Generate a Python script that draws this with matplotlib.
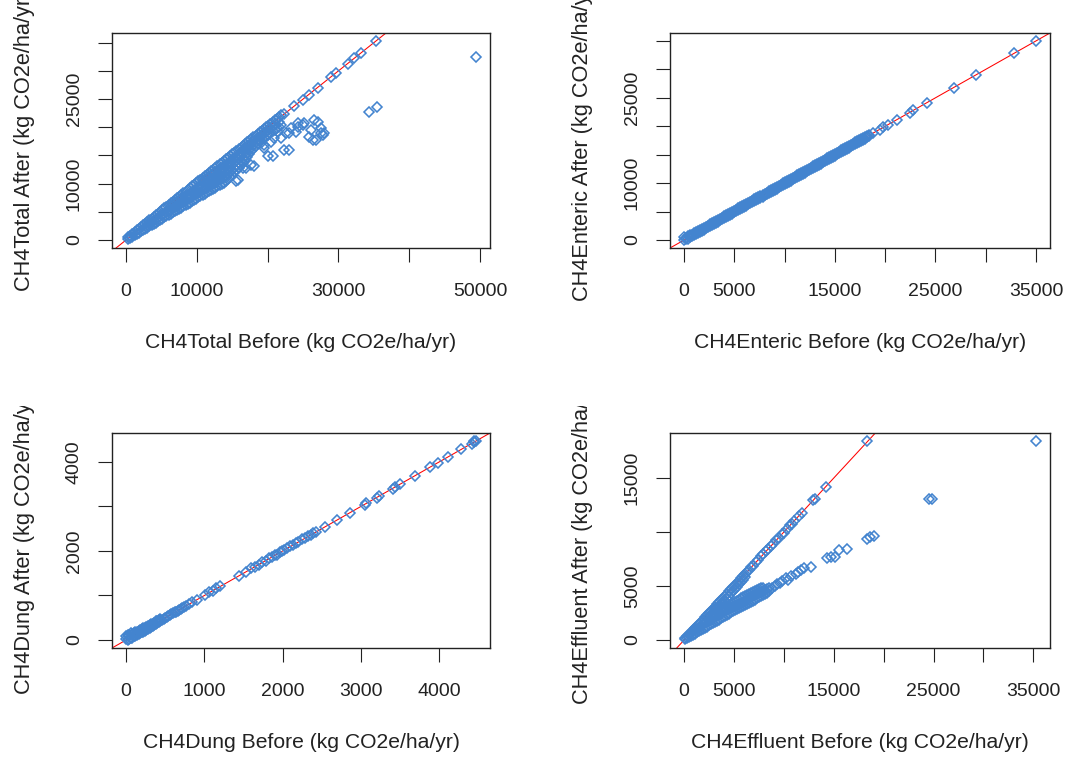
import matplotlib
matplotlib.use("Agg")
import matplotlib.pyplot as plt
from matplotlib.transforms import Bbox, TransformedBbox

POINT = "#4384CF"
LINE = "red"
BOX = "#222222"

# Dense clouds are kept as columns: one "before" value and the "after"
# values read at it. Sparse points are plain before/after lists.

# ---- CH4Total (kg CO2e/ha/yr) ----
total_cols = [
    300, 600, 900, 1200, 1500, 1800, 2100, 2400, 2700, 3000,
    3300, 3600, 3900, 4200, 4500, 4800, 5100, 5400, 5700, 6000,
    6300, 6600, 6900, 7200, 7500, 7800, 8100, 8400, 8700, 9000,
    9300, 9600, 9900, 10200, 10500, 10800, 11100, 11400, 11700, 12000,
    12300, 12600, 12900, 13200, 13500, 13800, 14100, 14400, 14700, 15000,
    15300, 15600, 15900, 16200, 16500, 16800, 17100, 17400, 17700, 18000,
    18300, 18600, 18900, 19200, 19500, 19800, 20100, 20400, 20700, 21000,
    21300, 21600, 21900,
]
total_col_after = [
    [150, 500], [350, 800], [600, 1100], [850, 1400], [1100, 1700],
    [1300, 2000], [1550, 2300], [1750, 2600], [2000, 2900],
    [2200, 2700, 3200], [2450, 3000, 3500], [2650, 3200, 3800],
    [2900, 3450, 4100], [3100, 3700, 4400], [3350, 3950, 4700],
    [3550, 4200, 5000], [3800, 4450, 5300], [4000, 4700, 5600],
    [4200, 4950, 5900], [4450, 5200, 6200],
    [4650, 5400, 6000, 6500], [4900, 5650, 6300, 6800],
    [5100, 5850, 6550, 7100], [5350, 6100, 6800, 7400],
    [5550, 6300, 7050, 7700], [5750, 6550, 7300, 8000],
    [6000, 6750, 7550, 8300], [6200, 7000, 7800, 8600],
    [6450, 7200, 8000, 8900], [6650, 7450, 8250, 9200],
    [6900, 7650, 8500, 9500], [7100, 7900, 8750, 9800],
    [7350, 8150, 9000, 10100], [7550, 8400, 9250, 10400],
    [7750, 8600, 9500, 10700],
    [8000, 8800, 9650, 10400, 11000], [8200, 9050, 9900, 10650, 11300],
    [8450, 9300, 10150, 10950, 11600], [8650, 9500, 10400, 11200, 11900],
    [8900, 9750, 10650, 11450, 12200], [9100, 10000, 10900, 11750, 12500],
    [9300, 10200, 11150, 12000, 12800], [9550, 10450, 11350, 12250, 13100],
    [9750, 10650, 11600, 12500, 13400], [10000, 10900, 11850, 12800, 13700],
    [10200, 11150, 12100, 13050, 14000], [10450, 11400, 12350, 13300, 14300],
    [10800, 11700, 12600, 13550, 14600], [11200, 12100, 12950, 13850, 14900],
    [11600, 12450, 13300, 14150, 15200], [12000, 12850, 13650, 14500, 15500],
    [12400, 13200, 14000, 14800, 15800], [12800, 13600, 14350, 15150, 16100],
    [13250, 14000, 14750, 15500, 16400], [13700, 14450, 15200, 15950, 16700],
    [14200, 14950, 15650, 16350, 17000], [14700, 15400, 16100, 16700, 17300],
    [15200, 15900, 16600, 17600], [15700, 16400, 17100, 17900],
    [16200, 16900, 17500, 18200], [16700, 17400, 18500],
    [17200, 17900, 18800], [17550, 18300, 19100], [17850, 18600, 19400],
    [18150, 18900, 19700], [18400, 19200, 20000], [18700, 19500, 20300],
    [19000, 19800, 20600], [19300, 20900], [19550, 20500, 21200],
    [19850, 21500], [20100, 21000, 21800], [20400, 22100],
]
total_before = [
    22360, 23770, 24950, 25890, 27070, 28950, 29660, 31310, 32250, 33190, 35310,
    15540, 15800, 16480, 16950, 17650, 18120, 19070, 19540, 20010, 20480, 20720,
    21420, 21890, 22360, 23070, 19530, 20950, 22600, 23070, 23300, 24010, 24250,
    24250, 24950, 25180, 26130, 25890, 26370, 26840, 27540, 28010, 27780, 26600,
    27070, 27540, 34370, 35450, 49430,
]
total_after = [
    22300, 23700, 24900, 25800, 27000, 28900, 29700, 31300, 32300, 33200, 35300,
    10410, 10700, 12760, 12760, 13340, 13060, 17170, 16290, 14820, 17470, 14820,
    19240, 18050, 15990, 15990, 16870, 18040, 18930, 18940, 19820, 19240, 20700,
    20110, 20400, 20700, 19520, 18350, 17760, 17760, 18940, 18940, 18650, 21280,
    21000, 19940, 22760, 23640, 32470,
]

# ---- CH4Enteric ----
enteric_cols = [
    0, 200, 400, 600, 800, 1000, 1200, 1400, 1600, 1800, 2000, 2200, 2400,
    2600, 2800, 3000, 3200, 3400, 3600, 3800, 4000, 4200, 4400, 4600, 4800,
    5000, 5200, 5400, 5600, 5800, 6000, 6200, 6400, 6600, 6800, 7000, 7200,
    7400, 7600, 7800, 8000, 8200, 8400, 8600, 8800, 9000, 9200, 9400, 9600,
    9800, 10000, 10200, 10400, 10600, 10800, 11000, 11200, 11400, 11600,
    11800, 12000, 12200, 12400, 12600, 12800, 13000, 13200, 13400, 13600,
    13800, 14000, 14200, 14400, 14600, 14800, 15000, 15200, 15400, 15600,
    15800, 16000, 16200, 16400, 16600, 16800, 17000, 17200, 17400, 17600,
    17800, 18000, 18200, 18400,
]
enteric_col_after = [
    [0, 450], [100, 350], [200, 650], [450, 800], [650, 950], [850, 1150],
    [1050, 1350], [1250, 1550], [1450, 1750], [1650, 1950], [1850, 2150],
    [2050, 2350], [2250, 2550], [2450, 2750], [2650, 2950], [2850, 3150],
    [3050, 3350], [3250, 3550], [3450, 3750], [3650, 3950], [3850, 4150],
    [4050, 4350], [4250, 4550], [4450, 4750], [4650, 4950], [4850, 5150],
    [5050, 5350], [5250, 5550], [5450, 5750], [5650, 5950], [5850, 6150],
    [6050, 6350], [6250, 6550], [6450, 6750], [6650, 6950], [6850, 7150],
    [7050, 7350], [7250, 7550], [7450, 7750], [7650, 7950], [7850, 8150],
    [8050, 8350], [8250, 8550], [8450, 8750], [8650, 8950], [8850, 9150],
    [9050, 9350], [9250, 9550], [9450, 9750], [9650, 9950], [9850, 10150],
    [10050, 10350], [10250, 10550], [10450, 10750], [10650, 10950],
    [10850, 11150], [11050, 11350], [11250, 11550], [11450, 11750],
    [11650, 11950], [11850, 12150], [12050, 12350], [12250, 12550],
    [12450, 12750], [12650, 12950], [12850, 13150], [13050, 13350],
    [13250, 13550], [13450, 13750], [13650, 13950], [13850, 14150],
    [14050, 14350], [14250, 14550], [14450, 14750], [14650, 14950],
    [14850, 15150], [15050, 15350], [15250, 15550], [15450, 15750],
    [15650, 15950], [15850, 16150], [16050, 16350], [16250, 16550],
    [16450, 16750], [16650, 16950], [16850, 17150], [17050, 17350],
    [17250, 17550], [17450, 17750], [17650, 17950], [17850, 18150],
    [18050, 18350], [18250, 18550],
]
enteric_before = [18800, 19470, 19800, 20300, 21140, 22480, 22810, 24150,
                  26810, 28990, 32830, 35000]
enteric_after = [18800, 19400, 19800, 20250, 21100, 22400, 22800, 24100,
                 26800, 28950, 32800, 35000]

# ---- CH4Dung ----
dung_cols = [
    0, 20, 40, 60, 80, 100, 120, 140, 160, 180, 200, 220, 240, 260, 280,
    300, 320, 340, 360, 380, 400, 420, 440, 460, 480, 500, 520, 540, 560,
    580, 600, 620, 640, 660, 680, 700, 720, 740, 760,
]
dung_col_after = [
    [20, 90], [0, 110], [30, 120], [40, 150], [50, 130], [80, 160],
    [100, 180], [110, 190], [130, 210], [150, 230], [170, 250], [190, 260],
    [210, 280], [230, 300], [250, 320], [270, 340], [290, 360], [310, 370],
    [330, 390], [350, 420], [380, 430], [400, 450], [420, 470], [460],
    [480], [500], [520], [540], [560], [580], [600], [620], [640], [660],
    [680], [700], [720], [740], [760],
]
dung_before = [
    800, 840, 910, 1010, 1060, 1110, 1150, 1200, 1440, 1530, 1600,
    1650, 1700, 1740, 1790, 1830, 1870, 1900, 1930, 1960, 1990, 2020, 2060,
    2100, 2130, 2170, 2200, 2250, 2290, 2330, 2360, 2390, 2420, 2540, 2690,
    2860, 3050, 3070, 3210, 3230, 3410, 3440, 3500, 3690, 3880, 3990, 4110,
    4280, 4420, 4440, 4450, 4470,
]
dung_after = [
    800, 850, 900, 1000, 1070, 1100, 1160, 1210, 1430, 1520, 1610,
    1640, 1690, 1750, 1780, 1840, 1860, 1910, 1920, 1970, 1990, 2030, 2060,
    2110, 2140, 2180, 2200, 2260, 2280, 2340, 2360, 2400, 2420, 2540, 2690,
    2850, 3040, 3070, 3200, 3230, 3400, 3440, 3500, 3680, 3880, 3980, 4100,
    4280, 4410, 4440, 4460, 4470,
]

# ---- CH4Effluent ----
effluent_cols = [
    100, 300, 500, 700, 900, 1100, 1300, 1500, 1700, 1900, 2100, 2300,
    2500, 2700, 2900, 3100, 3300, 3500, 3700, 3900, 4100, 4300, 4500, 4700,
    4900, 5100, 5300, 5500, 5700, 5900, 6100, 6300, 6500, 6700, 6900, 7100,
    7300, 7500, 7700, 7900, 8100, 8300, 8500,
]
effluent_col_after = [
    [50, 200], [150, 350], [250, 500], [400, 700], [500, 900],
    [600, 900, 1100], [700, 1050, 1300], [800, 1150, 1500],
    [950, 1300, 1700], [1050, 1450, 1900],
    [1150, 1550, 1850, 2100], [1250, 1650, 2000, 2300],
    [1400, 1800, 2150, 2500], [1500, 1900, 2300, 2700],
    [1600, 2000, 2450, 2900],
    [1700, 2100, 2500, 2850, 3100], [1800, 2200, 2600, 3000, 3300],
    [1900, 2300, 2700, 3100, 3500], [2050, 2450, 2850, 3300, 3700],
    [2150, 2550, 2950, 3450, 3900], [2250, 2650, 3050, 3600, 4100],
    [2350, 2750, 3150, 3800, 4300], [2450, 2850, 3250, 4100, 4500],
    [2550, 2950, 3350, 4350, 4700], [2650, 3050, 3450, 4550, 4900],
    [2750, 3150, 3550, 4750, 5100], [2850, 3250, 3650, 4950, 5300],
    [2950, 3350, 3750, 5150, 5500], [3050, 3450, 3850, 5350, 5700],
    [3150, 3550, 3950, 5550, 5900], [3250, 3650, 4050, 5800, 6100],
    [3350, 3750, 4150, 6300], [3450, 3850, 4250, 6500],
    [3550, 3950, 4350], [3650, 4050, 4450], [3750, 4150, 4550],
    [3850, 4250, 4650], [3950, 4350, 4750], [4050, 4450, 4800],
    [4150, 4550, 4850], [4300, 4650], [4400, 4750], [4500, 4850],
]
effluent_before = [
    6700, 6950, 7200, 7450, 7700, 7950, 8200, 8450, 8700, 8950, 9200, 9500,
    9800, 10000, 10330, 10600, 10830, 11000, 11500, 11830, 12900, 13100,
    14200, 18300,
    8830, 9100, 9330, 9600, 9830, 10170, 10400, 10670, 11170, 11400, 11670,
    12000, 12670, 14330, 14700, 15100, 15500, 16330, 18330, 18670, 19000,
    24510, 24850, 35260,
]
effluent_after = [
    6750, 6900, 7250, 7400, 7800, 7950, 8250, 8400, 8750, 8900, 9250, 9450,
    9850, 9950, 10300, 10650, 10750, 11050, 11450, 11750, 12950, 13050,
    14200, 18400,
    4860, 5000, 5170, 5300, 5470, 5770, 5600, 5920, 6070, 6300, 6520,
    6670, 6760, 7570, 7650, 7720, 8320, 8470, 9370, 9520, 9670,
    13070, 13100, 18430,
]

# ---- axis ticks and labels ----
total_xticks = [0, 10000, 20000, 30000, 40000, 50000]
total_xlabels = ["0", "10000", "", "30000", "", "50000"]
big_yticks = [0, 5000, 10000, 15000, 20000, 25000, 30000, 35000]
big_ylabels = ["0", "", "10000", "", "", "25000", "", ""]
wide_xticks = [0, 5000, 10000, 15000, 20000, 25000, 30000, 35000]
wide_xlabels = ["0", "5000", "", "15000", "", "25000", "", "35000"]
dung_ticks = [0, 1000, 2000, 3000, 4000]
dung_xlabels = ["0", "1000", "2000", "3000", "4000"]
dung_ylabels = ["0", "", "2000", "", "4000"]
effluent_yticks = [0, 5000, 10000, 15000]
effluent_ylabels = ["0", "5000", "", "15000"]


def flatten(cols, col_after, before, after):
    xs, ys = [], []
    for c, vals in zip(cols, col_after):
        for v in vals:
            xs.append(c)
            ys.append(v)
    return xs + list(before), ys + list(after)


def draw_panel(ax, before, after, xticks, xlabels, yticks, ylabels, name):
    ax.axline((0, 0), slope=1, color=LINE, linewidth=0.75, zorder=1)
    ax.plot(before, after, linestyle="none", marker="D", markersize=5.0,
            markerfacecolor="none", markeredgecolor=POINT,
            markeredgewidth=1.15, zorder=2)
    ax.margins(0.04)

    ax.set_xticks(xticks, xlabels)
    ax.set_yticks(yticks, ylabels, rotation=90, va="center")
    ax.tick_params(direction="out", length=10, width=0.8, colors=BOX,
                   labelsize=14)
    ax.tick_params(axis="x", pad=15)
    ax.tick_params(axis="y", pad=11)

    for sp in ax.spines.values():
        sp.set_linewidth(1.0)
        sp.set_color(BOX)

    ax.set_xlabel(f"{name} Before (kg CO2e/ha/yr)", fontsize=15.2,
                  color=BOX, labelpad=24)
    ax.set_ylabel(f"{name} After (kg CO2e/ha/yr)", fontsize=15.7,
                  color=BOX, labelpad=22)


def main() -> None:
    plt.rcParams.update({
        "font.family": ["Liberation Sans", "DejaVu Sans"],
    })

    fig = plt.figure(figsize=(10.7, 7.57), dpi=100)
    fig.patch.set_facecolor("white")

    ax1 = fig.add_axes([0.1047, 0.6724, 0.3533, 0.2840])
    ax2 = fig.add_axes([0.6262, 0.6724, 0.3551, 0.2840])
    ax3 = fig.add_axes([0.1047, 0.1440, 0.3533, 0.2840])
    ax4 = fig.add_axes([0.6262, 0.1440, 0.3551, 0.2840])

    x, y = flatten(total_cols, total_col_after, total_before, total_after)
    draw_panel(ax1, x, y, total_xticks, total_xlabels,
               big_yticks, big_ylabels, "CH4Total")
    x, y = flatten(enteric_cols, enteric_col_after, enteric_before, enteric_after)
    draw_panel(ax2, x, y, wide_xticks, wide_xlabels,
               big_yticks, big_ylabels, "CH4Enteric")
    x, y = flatten(dung_cols, dung_col_after, dung_before, dung_after)
    draw_panel(ax3, x, y, dung_ticks, dung_xlabels,
               dung_ticks, dung_ylabels, "CH4Dung")
    x, y = flatten(effluent_cols, effluent_col_after, effluent_before, effluent_after)
    draw_panel(ax4, x, y, wide_xticks, wide_xlabels,
               effluent_yticks, effluent_ylabels, "CH4Effluent")

    # the lower row was a separate picture: cut its y labels at its top edge
    clip = TransformedBbox(Bbox.from_extents(0, 0, 1, 1 - 406 / 757),
                           fig.transFigure)
    for ax in (ax3, ax4):
        lab = ax.yaxis.label
        lab.set_clip_box(clip)
        lab.set_clip_on(True)

    fig.savefig("out.png", dpi=100, facecolor="white")


if __name__ == "__main__":
    main()
